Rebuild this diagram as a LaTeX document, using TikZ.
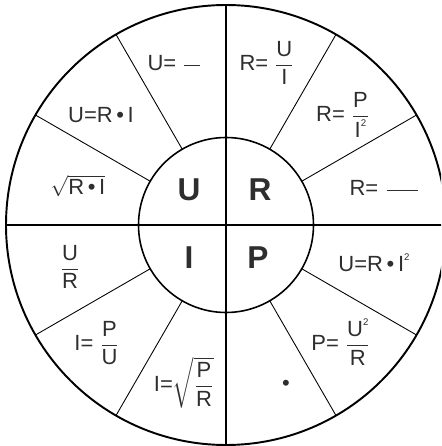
\documentclass[tikz,border=0pt]{standalone}
\usepackage{amsmath}
\usepackage{fontspec}
\setmainfont{Liberation Sans}
\definecolor{ink}{HTML}{2E2E2E}
\newcommand{\fr}[2]{$\genfrac{}{}{0.6pt}{0}{\mbox{#1}}{\mbox{#2}}$}
\newcommand{\sqr}{\raisebox{0.95ex}{\fontsize{5.5}{6}\selectfont 2}}

\begin{document}
\begin{tikzpicture}[
    lbl/.style={text=ink, inner sep=0pt, font=\fontsize{12.5}{14}\selectfont},
    big/.style={text=ink, inner sep=0pt, font=\fontsize{18}{20}\selectfont\bfseries}]
    \clip (-4.52,-4.42) rectangle (4.30,4.50);
    % Wheel
    \draw[line width=1.1pt] (0,0) circle (4.4);
    \draw[line width=0.9pt] (0,0) circle (1.75);
    \draw[line width=0.9pt] (-4.4,0) -- (4.4,0);
    \draw[line width=0.9pt] (0,-4.4) -- (0,4.4);
    \foreach \a in {30,60,120,150,210,240,300,330}
        \draw[line width=0.5pt] (\a:1.75) -- (\a:4.4);
    % Centre: U R I P
    \node[big] (u) at (-0.74,0.70) {U};
    \node[big] (r) at (0.68,0.70) {R};
    \node[big] (i) at (-0.74,-0.66) {I};
    \node[big] (p) at (0.64,-0.66) {P};
    % Ring, U quadrant
    \node[lbl] (u1) at (-1.02,3.24) {U= \fr{\phantom{U}}{\phantom{I}}};
    \node[lbl] (u2) at (-2.50,2.20) {U=R\,•\,I};
    \node[lbl] (u3) at (-2.96,0.78) {$\sqrt{\mbox{R\,•\,I}}$};
    % Ring, R quadrant
    \node[lbl] (r1) at (0.82,3.24) {R= \fr{U}{I}};
    \node[lbl] (r2) at (2.34,2.20) {R= \fr{P}{I\sqr}};
    \node[lbl] (r3) at (3.18,0.74) {R= \fr{\phantom{U}\hphantom{U}}{\phantom{I}}};
    % Ring, I quadrant
    \node[lbl] (i1) at (-3.12,-0.84) {\fr{U}{R}};
    \node[lbl] (i2) at (-2.58,-2.36) {I= \fr{P}{U}};
    \node[lbl] (i3) at (-0.84,-3.16) {I=$\sqrt{\genfrac{}{}{0.6pt}{0}{\mbox{P}}{\mbox{R}}}$};
    % Ring, P quadrant
    \node[lbl] (p1) at (2.96,-0.76) {U=R\,•\,I\sqr};
    \node[lbl] (p2) at (2.30,-2.34) {P= \fr{U\sqr}{R}};
    \node[lbl] (p3) at (1.20,-3.20) {•};
\end{tikzpicture}
\end{document}
